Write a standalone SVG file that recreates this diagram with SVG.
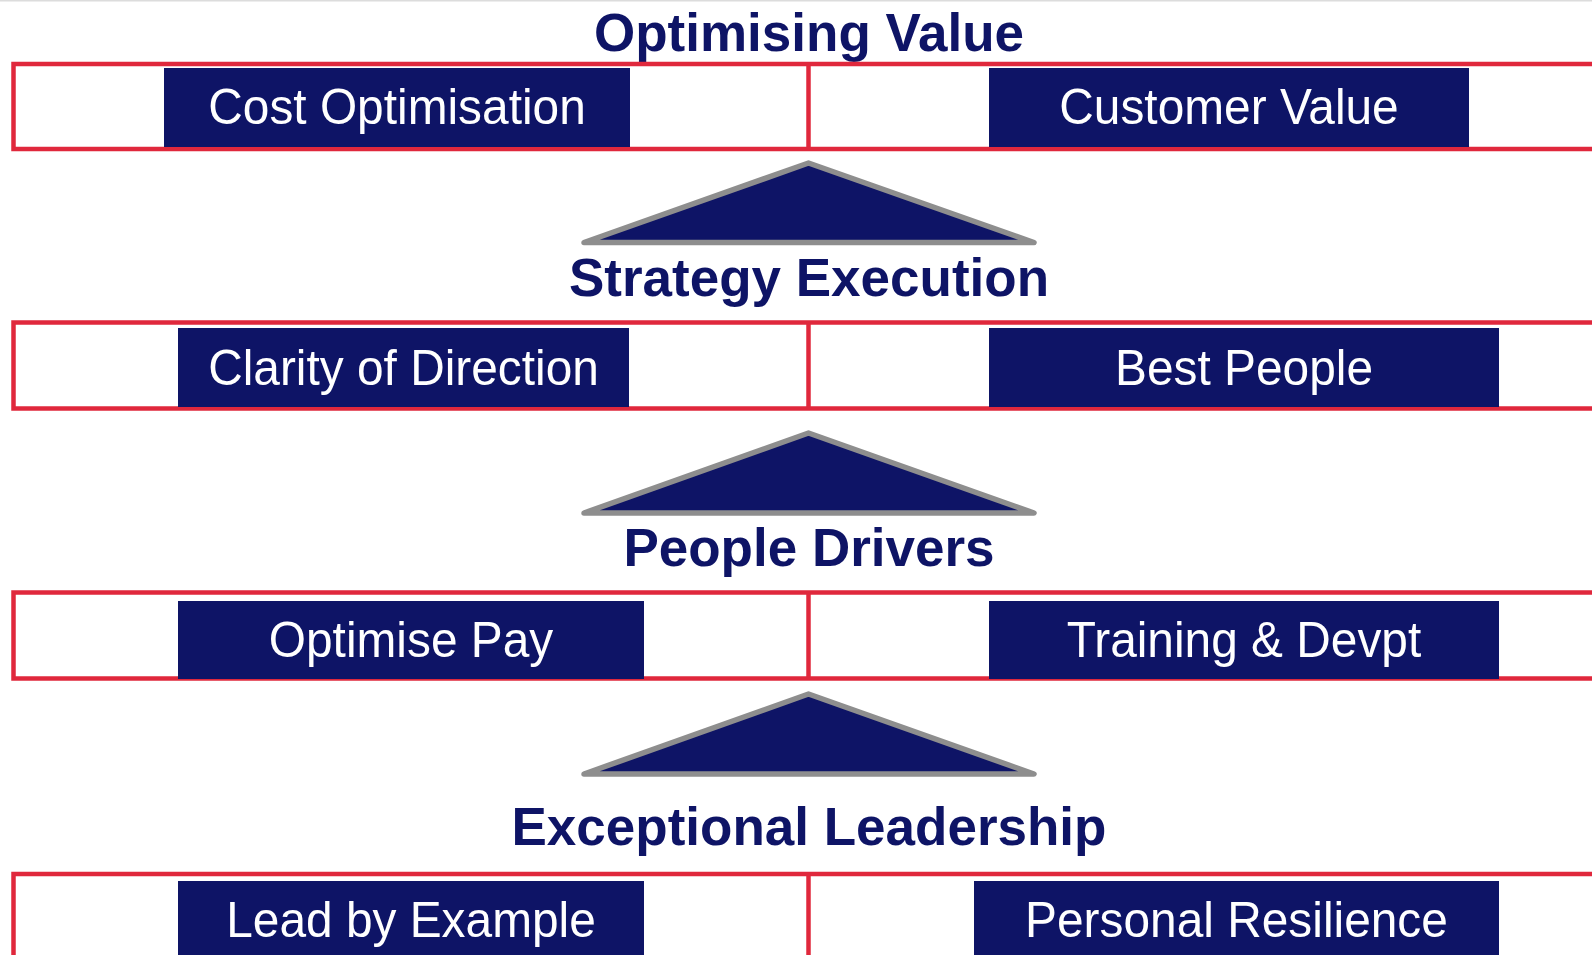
<svg xmlns="http://www.w3.org/2000/svg" width="1592" height="955" viewBox="0 0 1592 955">
  <style>
    .frame { fill: none; stroke: #e0283c; stroke-width: 4.5; }
    .divider { stroke: #e0283c; stroke-width: 4.5; }
    .box { fill: #0e1466; }
    .label { font-family: "Liberation Sans", Arial, sans-serif; font-size: 50px; fill: #ffffff; text-anchor: middle; }
    .title { font-family: "Liberation Sans", Arial, sans-serif; font-size: 53px; font-weight: bold; fill: #0e1466; text-anchor: middle; }
    .arrow { fill: #0e1466; stroke: #8e8e8e; stroke-width: 5.5; stroke-linejoin: round; stroke-linecap: round; }
  </style>

  <rect x="0" y="0" width="1592" height="955" fill="#ffffff"/>
  <rect x="0" y="0" width="1592" height="1.5" fill="#dcdcdc"/>

  <!-- Tier 1: Optimising Value -->
  <g id="title-optimising-value">
    <text class="title" x="809" y="51">Optimising Value</text>
  </g>
  <g id="frame-optimising-value">
    <rect class="frame" x="13.5" y="64" width="1600" height="85"/>
    <line class="divider" x1="808.5" y1="64" x2="808.5" y2="149"/>
  </g>
  <g id="node-cost-optimisation">
    <rect class="box" x="164" y="68" width="466" height="79"/>
    <text class="label" transform="translate(397 124) scale(0.957 1)">Cost Optimisation</text>
  </g>
  <g id="node-customer-value">
    <rect class="box" x="989" y="68" width="480" height="79"/>
    <text class="label" transform="translate(1229 124) scale(0.957 1)">Customer Value</text>
  </g>

  <!-- Tier 2: Strategy Execution -->
  <g id="title-strategy-execution">
    <text class="title" x="809" y="296">Strategy Execution</text>
  </g>
  <g id="frame-strategy-execution">
    <rect class="frame" x="13.5" y="322.5" width="1600" height="86"/>
    <line class="divider" x1="808.5" y1="322.5" x2="808.5" y2="408.5"/>
  </g>
  <g id="node-clarity-of-direction">
    <rect class="box" x="178" y="328" width="451" height="79"/>
    <text class="label" transform="translate(403.5 384.5) scale(0.957 1)">Clarity of Direction</text>
  </g>
  <g id="node-best-people">
    <rect class="box" x="989" y="328" width="510" height="79"/>
    <text class="label" transform="translate(1244 384.5) scale(0.957 1)">Best People</text>
  </g>

  <!-- Tier 3: People Drivers -->
  <g id="title-people-drivers">
    <text class="title" x="809" y="566">People Drivers</text>
  </g>
  <g id="frame-people-drivers">
    <rect class="frame" x="13.5" y="592.5" width="1600" height="86"/>
    <line class="divider" x1="808.5" y1="592.5" x2="808.5" y2="678.5"/>
  </g>
  <g id="node-optimise-pay">
    <rect class="box" x="178" y="601" width="466" height="78"/>
    <text class="label" transform="translate(411 657) scale(0.957 1)">Optimise Pay</text>
  </g>
  <g id="node-training-devpt">
    <rect class="box" x="989" y="601" width="510" height="78"/>
    <text class="label" transform="translate(1244 657) scale(0.957 1)">Training &amp; Devpt</text>
  </g>

  <!-- Tier 4: Exceptional Leadership -->
  <g id="title-exceptional-leadership">
    <text class="title" x="809" y="845">Exceptional Leadership</text>
  </g>
  <g id="frame-exceptional-leadership">
    <rect class="frame" x="13.5" y="874" width="1600" height="120"/>
    <line class="divider" x1="808.5" y1="874" x2="808.5" y2="960"/>
  </g>
  <g id="node-lead-by-example">
    <rect class="box" x="178" y="881" width="466" height="80"/>
    <text class="label" transform="translate(411 937) scale(0.957 1)">Lead by Example</text>
  </g>
  <g id="node-personal-resilience">
    <rect class="box" x="974" y="881" width="525" height="80"/>
    <text class="label" transform="translate(1236.5 937) scale(0.957 1)">Personal Resilience</text>
  </g>

  <!-- Upward pointers between tiers -->
  <g id="connectors">
    <polygon class="arrow" points="808.5,163 1034,242.5 584,242.5"/>
    <polygon class="arrow" points="808.5,433 1034,513 584,513"/>
    <polygon class="arrow" points="808.5,694 1034,774 584,774"/>
  </g>
</svg>
